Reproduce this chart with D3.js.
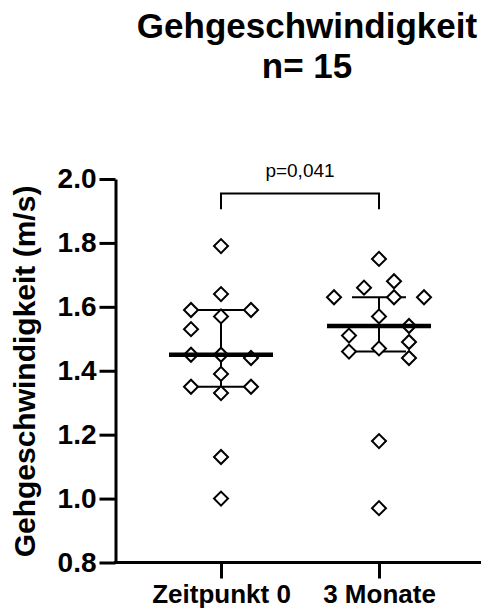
<!DOCTYPE html>
<html>
<head>
<meta charset="utf-8">
<script src="https://cdn.jsdelivr.net/npm/d3@7/dist/d3.min.js"></script>
<style>
  html, body { margin: 0; padding: 0; background: #fff; }
  svg { display: block; }
  text { font-family: "Liberation Sans", Arial, Helvetica, sans-serif; fill: #000; }
</style>
</head>
<body>
<svg id="chart" width="481" height="610"></svg>
<script>
// Walking speed (m/s) of 15 participants at baseline and after 3 months
const categories = ["Zeitpunkt 0", "3 Monate"];
const speedBaseline = [1.79, 1.64, 1.57, 1.59, 1.59, 1.53, 1.45, 1.39, 1.33, 1.45, 1.44, 1.35, 1.35, 1.13, 1.00];
const speed3Months  = [1.75, 1.68, 1.66, 1.63, 1.63, 1.63, 1.57, 1.47, 1.51, 1.54, 1.46, 1.49, 1.44, 1.18, 0.97];
const yTicks = [0.8, 1.0, 1.2, 1.4, 1.6, 1.8, 2.0];
const titleLines = ["Gehgeschwindigkeit", "n= 15"];
const yLabel = "Gehgeschwindigkeit (m/s)";
const pLabel = "p=0,041";

const groups = [speedBaseline, speed3Months];

const svg = d3.select("#chart");

const axisX = 115.5;      // left edge of plot (y axis position)
const axisBottomY = 562.5;
const axisTopY = 179;

const y = d3.scaleLinear().domain([0.8, 2.0]).range([axisBottomY, axisTopY]);
const x = d3.scalePoint().domain(categories).range([221, 379]);

// Title
svg.append("g").selectAll("text")
  .data(titleLines)
  .join("text")
  .attr("x", 307)
  .attr("y", (d, i) => 38 + i * 40)
  .attr("text-anchor", "middle")
  .style("font-size", "35px")
  .style("font-weight", "bold")
  .text(d => d);

// Y axis
const yAxis = d3.axisLeft(y)
  .tickValues(yTicks)
  .tickFormat(d3.format(".1f"))
  .tickSize(16)
  .tickSizeOuter(0)
  .tickPadding(3);

const gy = svg.append("g")
  .attr("transform", `translate(${axisX},0)`)
  .call(yAxis);
gy.selectAll("path, line").attr("stroke", "#000").attr("stroke-width", 3);
gy.selectAll("text")
  .style("font-size", "28px")
  .style("font-weight", "bold")
  .attr("fill", "#000");

// X axis: baseline across the full width, ticks at category positions
svg.append("line")
  .attr("x1", axisX - 1.5).attr("x2", 481)
  .attr("y1", axisBottomY).attr("y2", axisBottomY)
  .attr("stroke", "#000").attr("stroke-width", 3);

const xAxis = d3.axisBottom(x).tickSize(16).tickSizeOuter(0).tickPadding(6);
const gx = svg.append("g")
  .attr("transform", `translate(0,${axisBottomY})`)
  .call(xAxis);
gx.select(".domain").remove();
gx.selectAll("line").attr("stroke", "#000").attr("stroke-width", 3);
gx.selectAll("text")
  .style("font-size", "26px")
  .style("font-weight", "bold")
  .attr("fill", "#000");

// Y axis title
svg.append("text")
  .attr("transform", "rotate(-90)")
  .attr("x", -371.5)
  .attr("y", 35)
  .attr("text-anchor", "middle")
  .style("font-size", "30px")
  .style("font-weight", "bold")
  .text(yLabel);

// Scatter arrangement: greedy column placement, then each vertical
// cluster of touching points is centred on the category.
const colStep = 30;
const minGap = 15.5;
const candidateCols = [0, -1, 1, -2, 2, -3, 3];

function arrange(values) {
  const pts = values.map((v, i) => ({ v, i, py: y(v), col: 0 }));
  const placed = [];
  pts.forEach(p => {
    for (const c of candidateCols) {
      const hit = placed.some(q => q.col === c && Math.abs(q.py - p.py) < minGap);
      if (!hit) { p.col = c; break; }
    }
    placed.push(p);
  });
  const sorted = pts.slice().sort((a, b) => a.py - b.py);
  let cluster = [sorted[0]];
  const clusters = [cluster];
  for (let k = 1; k < sorted.length; k++) {
    if (sorted[k].py - sorted[k - 1].py < minGap) cluster.push(sorted[k]);
    else { cluster = [sorted[k]]; clusters.push(cluster); }
  }
  clusters.forEach(cl => {
    const lo = d3.min(cl, d => d.col), hi = d3.max(cl, d => d.col);
    const shift = -(lo + hi) / 2;
    cl.forEach(d => { d.col += shift; });
  });
  return pts;
}

// Quartiles at rank (n+1)p, interpolated
function quartile(values, p) {
  const s = values.slice().sort(d3.ascending);
  const pos = (s.length + 1) * p - 1;
  const lo = Math.max(0, Math.floor(pos)), hi = Math.min(s.length - 1, Math.ceil(pos));
  return s[lo] + (s[hi] - s[lo]) * (pos - lo);
}

const plot = svg.append("g");

groups.forEach((vals, gi) => {
  const cx = x(categories[gi]);
  const med = quartile(vals, 0.5);
  const q1 = quartile(vals, 0.25);
  const q3 = quartile(vals, 0.75);

  const g = plot.append("g");

  // Interquartile whisker
  g.append("line")
    .attr("x1", cx).attr("x2", cx)
    .attr("y1", y(q1)).attr("y2", y(q3))
    .attr("stroke", "#000").attr("stroke-width", 2);
  [q1, q3].forEach(q => {
    g.append("line")
      .attr("x1", cx - 27).attr("x2", cx + 27)
      .attr("y1", y(q)).attr("y2", y(q))
      .attr("stroke", "#000").attr("stroke-width", 2);
  });

  // Points
  const pts = arrange(vals);
  g.selectAll("path.pt")
    .data(pts)
    .join("path")
    .attr("class", "pt")
    .attr("d", d3.symbol(d3.symbolSquare, 98))
    .attr("transform", d => `translate(${cx + d.col * colStep},${d.py}) rotate(45)`)
    .attr("fill", "#fff")
    .attr("stroke", "#000")
    .attr("stroke-width", 2);

  // Median
  g.append("line")
    .attr("x1", cx - 52).attr("x2", cx + 52)
    .attr("y1", y(med)).attr("y2", y(med))
    .attr("stroke", "#000").attr("stroke-width", 4.5);
});

// Significance bracket
const bx1 = x(categories[0]), bx2 = x(categories[1]);
const bTop = y(1.955), bLeg = y(1.905);
svg.append("path")
  .attr("d", `M${bx1},${bLeg}V${bTop}H${bx2}V${bLeg}`)
  .attr("fill", "none")
  .attr("stroke", "#000")
  .attr("stroke-width", 2);
svg.append("text")
  .attr("x", (bx1 + bx2) / 2)
  .attr("y", bTop - 16.5)
  .attr("text-anchor", "middle")
  .style("font-size", "19px")
  .text(pLabel);
</script>
</body>
</html>
